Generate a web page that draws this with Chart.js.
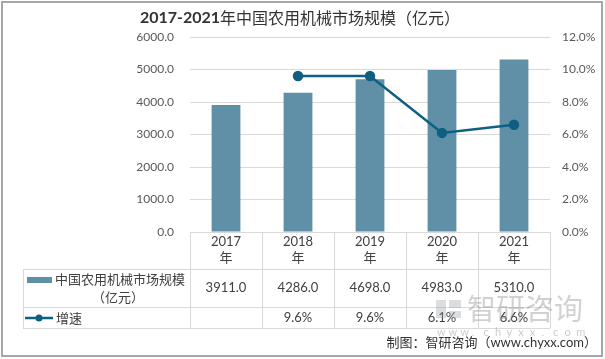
<!DOCTYPE html>
<html>
<head>
<meta charset="utf-8">
<script src="https://cdn.jsdelivr.net/npm/chart.js@4"></script>
<style>
html,body{margin:0;padding:0;background:#fff;}
#wrap{width:605px;height:359px;position:relative;}
</style>
</head>
<body>
<div id="wrap"><canvas id="c" width="605" height="359"></canvas></div>
<script>
// ---- data ----
const categories = ['2017', '2018', '2019', '2020', '2021'];
const yearSuffix = '年';
const marketSize = [3911.0, 4286.0, 4698.0, 4983.0, 5310.0];
const growth = [null, 9.6, 9.6, 6.1, 6.6];
const seriesNames = ['中国农用机械市场规模', '（亿元）', '增速'];
const titleNum = '2017-2021';
const titleText = '年中国农用机械市场规模（亿元）';
const sourceText = '制图：智研咨询（www.chyxx.com）';
const leftAxis = { min: 0, max: 6000, step: 1000 };
const rightAxis = { min: 0, max: 12, step: 2 };

const BAR = '#6090a8';
const LINE = '#0f5f81';
const GRID = '#d9d9d9';
const TXT = '#404040';
const NUMF = 'Lato, "Noto Sans CJK SC", sans-serif';
const CJKF = '"Noto Sans CJK SC", sans-serif';

const tablePlugin = {
  id: 'tablePlugin',
  afterDraw(chart) {
    const ctx = chart.ctx;
    const xs = chart.scales.x;
    const area = chart.chartArea;
    const n = categories.length;
    const half = (xs.getPixelForValue(1) - xs.getPixelForValue(0)) / 2;
    const bounds = [];
    for (let i = 0; i < n; i++) bounds.push(xs.getPixelForValue(i) - half);
    bounds.push(xs.getPixelForValue(n - 1) + half);
    const r0 = area.bottom, r1 = r0 + 37, r2 = r0 + 75, r3 = r0 + 96;
    const tableLeft = 23;
    ctx.save();
    ctx.strokeStyle = GRID;
    ctx.lineWidth = 1;
    const hl = (y, x1, x2) => { ctx.beginPath(); ctx.moveTo(x1, Math.round(y) + 0.5); ctx.lineTo(x2, Math.round(y) + 0.5); ctx.stroke(); };
    const vl = (x, y1, y2) => { ctx.beginPath(); ctx.moveTo(Math.round(x) + 0.5, y1); ctx.lineTo(Math.round(x) + 0.5, y2); ctx.stroke(); };
    hl(r0, bounds[0], bounds[n]);
    hl(r1, tableLeft, bounds[n]);
    hl(r2, tableLeft, bounds[n]);
    hl(r3, tableLeft, bounds[n]);
    bounds.forEach(b => vl(b, r0, r3));
    vl(tableLeft, r1, r3);

    ctx.fillStyle = TXT;
    ctx.textAlign = 'center';
    ctx.textBaseline = 'middle';
    for (let i = 0; i < n; i++) {
      const cx = xs.getPixelForValue(i);
      ctx.font = '13px ' + NUMF;
      ctx.fillText(categories[i], cx, r0 + 10);
      ctx.font = '13px ' + CJKF;
      ctx.fillText(yearSuffix, cx, r0 + 25);
      ctx.font = '13px ' + NUMF;
      ctx.fillText(marketSize[i].toFixed(1), cx, r0 + 56);
      if (growth[i] !== null) ctx.fillText(growth[i].toFixed(1) + '%', cx, r0 + 86);
    }
    // legend keys
    ctx.fillStyle = BAR;
    ctx.fillRect(27, r0 + 45, 25, 6);
    ctx.fillStyle = TXT;
    ctx.textAlign = 'left';
    ctx.font = '13px ' + CJKF;
    ctx.fillText(seriesNames[0], 55, r0 + 47);
    ctx.textAlign = 'center';
    ctx.fillText(seriesNames[1], 118, r0 + 65);
    ctx.strokeStyle = LINE;
    ctx.lineWidth = 2.5;
    ctx.beginPath(); ctx.moveTo(25, r0 + 86); ctx.lineTo(53, r0 + 86); ctx.stroke();
    ctx.fillStyle = LINE;
    ctx.beginPath(); ctx.arc(39, r0 + 86, 3.5, 0, Math.PI * 2); ctx.fill();
    ctx.fillStyle = TXT;
    ctx.textAlign = 'left';
    ctx.fillText(seriesNames[2], 56, r0 + 86);

    // watermark
    ctx.fillStyle = 'rgba(150,160,170,0.35)';
    ctx.fillRect(436, 300, 10, 18);
    ctx.fillRect(449, 300, 12, 8);
    ctx.fillRect(449, 311, 12, 7);
    ctx.fillStyle = 'rgba(140,140,140,0.40)';
    ctx.font = '29px ' + CJKF;
    ctx.textAlign = 'left';
    ctx.fillText('智研咨询', 467, 309);
    ctx.font = '11px ' + NUMF;
    ctx.fillStyle = 'rgba(140,140,140,0.45)';
    const wm = 'www.chyxx.com'.split('');
    wm.forEach((c, k) => ctx.fillText(c, 437 + k * 11.6, 332));

    // title
    ctx.fillStyle = '#333333';
    ctx.textAlign = 'left';
    ctx.textBaseline = 'middle';
    ctx.font = 'bold 16px ' + NUMF;
    const w1 = ctx.measureText(titleNum).width;
    ctx.font = '16px ' + CJKF;
    const w2 = ctx.measureText(titleText).width;
    const tx = 300 - (w1 + w2) / 2;
    ctx.font = 'bold 16px ' + NUMF;
    ctx.fillText(titleNum, tx, 18);
    ctx.font = '16px ' + CJKF;
    ctx.fillText(titleText, tx + w1, 18);

    // source
    ctx.fillStyle = '#333333';
    ctx.textAlign = 'right';
    ctx.font = '13px ' + NUMF;
    ctx.fillText(sourceText, 597, 343);

    // outer border
    ctx.strokeStyle = '#a6a6a6';
    ctx.lineWidth = 2;
    ctx.strokeRect(2, 2, 600, 354);
    ctx.restore();
  }
};

new Chart(document.getElementById('c'), {
  data: {
    labels: categories,
    datasets: [
      {
        type: 'line',
        data: growth,
        yAxisID: 'y1',
        borderColor: LINE,
        backgroundColor: LINE,
        borderWidth: 2.5,
        pointRadius: 4,
        pointBackgroundColor: LINE,
        pointBorderColor: LINE,
        spanGaps: false,
        tension: 0,
        order: 0
      },
      {
        type: 'bar',
        data: marketSize,
        yAxisID: 'y',
        backgroundColor: BAR,
        categoryPercentage: 1,
        barPercentage: 0.4,
        order: 1
      }
    ]
  },
  options: {
    responsive: false,
    animation: false,
    layout: { padding: { top: 37, bottom: 127, left: 0, right: 0 } },
    plugins: { legend: { display: false }, title: { display: false }, tooltip: { enabled: false } },
    scales: {
      x: { display: false, offset: true },
      y: {
        position: 'left',
        min: leftAxis.min, max: leftAxis.max,
        afterFit(s) { s.width = 190; },
        border: { display: false },
        grid: { color: GRID, drawTicks: false },
        ticks: { stepSize: leftAxis.step, padding: 16, color: '#595959', font: { size: 12, family: NUMF }, callback: v => v.toFixed(1) }
      },
      y1: {
        position: 'right',
        min: rightAxis.min, max: rightAxis.max,
        afterFit(s) { s.width = 55; },
        border: { display: false },
        grid: { display: false, drawTicks: false },
        ticks: { stepSize: rightAxis.step, padding: 12, color: '#595959', font: { size: 12, family: NUMF }, callback: v => v.toFixed(1) + '%' }
      }
    }
  },
  plugins: [tablePlugin]
});
</script>
</body>
</html>
